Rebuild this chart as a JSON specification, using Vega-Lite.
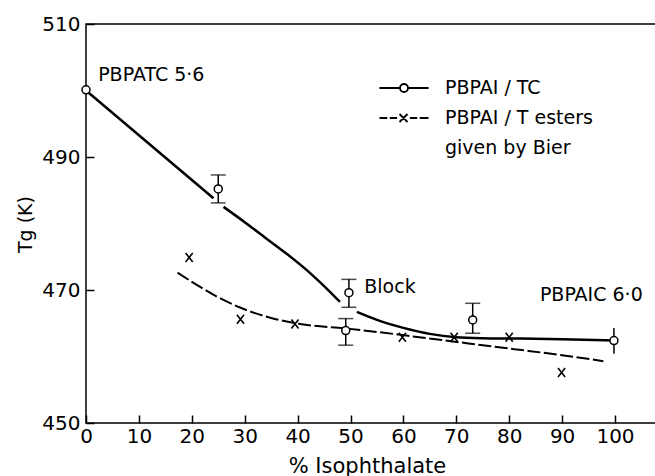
{
  "$schema": "https://vega.github.io/schema/vega-lite/v6.json",
  "width": 570,
  "height": 399,
  "autosize": {"type": "none"},
  "padding": {"left": 86, "top": 24, "right": 0, "bottom": 53},
  "background": "white",
  "config": {
    "font": "DejaVu Sans",
    "view": {"stroke": "black", "strokeWidth": 1.5},
    "axis": {"domain": false, "grid": false, "tickColor": "black", "tickWidth": 1.5, "tickSize": -8, "labelColor": "black", "labelFontSize": 20, "labelFont": "DejaVu Sans", "titleColor": "black", "titleFont": "DejaVu Sans", "titleFontWeight": "normal", "labelFlush": false, "labelOverlap": false}
  },
  "datasets": {
    "tc_curve": [
      {"seg": "a", "x": 0, "y": 500.0},
      {"seg": "a", "x": 24.1, "y": 483.8},
      {"seg": "b", "x": 26.0, "y": 482.5},
      {"seg": "b", "x": 30.0, "y": 480.2},
      {"seg": "b", "x": 34.0, "y": 477.8},
      {"seg": "b", "x": 38.0, "y": 475.4},
      {"seg": "b", "x": 42.0, "y": 472.8},
      {"seg": "b", "x": 45.5, "y": 470.2},
      {"seg": "b", "x": 48.0, "y": 468.2},
      {"seg": "c", "x": 51.2, "y": 466.7},
      {"seg": "c", "x": 55.0, "y": 465.5},
      {"seg": "c", "x": 60.0, "y": 464.3},
      {"seg": "c", "x": 65.0, "y": 463.4},
      {"seg": "c", "x": 70.0, "y": 462.9},
      {"seg": "c", "x": 75.0, "y": 462.75},
      {"seg": "c", "x": 81.0, "y": 462.7},
      {"seg": "c", "x": 90.0, "y": 462.6},
      {"seg": "c", "x": 99.7, "y": 462.4}
    ],
    "bier_curve": [
      {"x": 17.3, "y": 472.6},
      {"x": 21.5, "y": 470.5},
      {"x": 25.0, "y": 468.9},
      {"x": 29.0, "y": 467.4},
      {"x": 35.0, "y": 465.8},
      {"x": 40.5, "y": 464.9},
      {"x": 49.3, "y": 464.2},
      {"x": 56.0, "y": 463.6},
      {"x": 63.0, "y": 462.9},
      {"x": 69.0, "y": 462.3},
      {"x": 75.0, "y": 461.7},
      {"x": 81.0, "y": 461.1},
      {"x": 90.0, "y": 460.2},
      {"x": 97.8, "y": 459.3}
    ],
    "tc_points": [
      {"x": 0, "y": 500.1},
      {"x": 25.0, "y": 485.2},
      {"x": 49.7, "y": 469.6},
      {"x": 49.1, "y": 463.9},
      {"x": 73.1, "y": 465.5},
      {"x": 99.8, "y": 462.4}
    ],
    "err_capped": [
      {"x": 25.0, "lo": 483.1, "hi": 487.3},
      {"x": 49.7, "lo": 467.4, "hi": 471.6},
      {"x": 49.1, "lo": 461.7, "hi": 465.7},
      {"x": 73.1, "lo": 463.5, "hi": 468.0}
    ],
    "err_plain": [
      {"x": 99.8, "lo": 460.4, "hi": 464.3}
    ],
    "bier_points": [
      {"x": 19.5, "y": 474.9},
      {"x": 29.2, "y": 465.6},
      {"x": 39.5, "y": 464.9},
      {"x": 59.8, "y": 462.9},
      {"x": 69.6, "y": 462.9},
      {"x": 80.0, "y": 462.9},
      {"x": 89.9, "y": 457.6}
    ],
    "labels": [
      {"text": "PBPATC 5·6", "x": 2.3, "y": 502.3},
      {"text": "Block", "x": 52.6, "y": 470.4},
      {"text": "PBPAIC 6·0", "x": 85.8, "y": 469.25}
    ],
    "series": [
      {"series": "PBPAI / TC"},
      {"series": "PBPAI / T esters"}
    ]
  },
  "encoding": {
    "x": {"field": "x", "type": "quantitative", "scale": {"domain": [0, 107.75], "nice": false, "zero": false},
      "axis": {"values": [0, 10, 20, 30, 40, 50, 60, 70, 80, 90, 100], "labelPadding": 11, "title": "% Isophthalate", "titleFontSize": 21, "titleX": 281, "titleY": 43, "titleBaseline": "middle"}},
    "y": {"field": "y", "type": "quantitative", "scale": {"domain": [450, 510], "nice": false, "zero": false},
      "axis": {"values": [450, 470, 490, 510], "labelPadding": 14, "title": "Tg (K)", "titleFontSize": 19, "titleX": -61, "titleY": 200, "titleAngle": -90, "titleAlign": "center", "titleBaseline": "middle"}}
  },
  "layer": [
    {
      "data": {"name": "tc_curve"},
      "mark": {"type": "line", "color": "black", "strokeWidth": 2.5, "interpolate": "monotone"},
      "encoding": {"detail": {"field": "seg"}}
    },
    {
      "data": {"name": "bier_curve"},
      "mark": {"type": "line", "color": "black", "strokeWidth": 2, "strokeDash": [13, 3.5], "interpolate": "monotone"},
      "encoding": {}
    },
    {
      "data": {"name": "err_capped"},
      "mark": {"type": "rule", "color": "black", "strokeWidth": 1.5},
      "encoding": {"y": {"field": "lo", "type": "quantitative"}, "y2": {"field": "hi"}}
    },
    {
      "data": {"name": "err_plain"},
      "mark": {"type": "rule", "color": "black", "strokeWidth": 1.5},
      "encoding": {"y": {"field": "lo", "type": "quantitative"}, "y2": {"field": "hi"}}
    },
    {
      "data": {"name": "err_capped"},
      "mark": {"type": "tick", "color": "black", "orient": "horizontal", "size": 15, "thickness": 1.5},
      "encoding": {"y": {"field": "lo", "type": "quantitative"}}
    },
    {
      "data": {"name": "err_capped"},
      "mark": {"type": "tick", "color": "black", "orient": "horizontal", "size": 15, "thickness": 1.5},
      "encoding": {"y": {"field": "hi", "type": "quantitative"}}
    },
    {
      "data": {"name": "tc_points"},
      "mark": {"type": "point", "shape": "circle", "size": 64, "filled": false, "fill": "white", "fillOpacity": 1, "stroke": "black", "strokeWidth": 1.5, "opacity": 1}
    },
    {
      "data": {"name": "bier_points"},
      "mark": {"type": "point", "shape": "M-0.8,-1L0.8,1M-0.8,1L0.8,-1", "size": 80, "filled": false, "stroke": "black", "strokeWidth": 1.6, "opacity": 1}
    },
    {
      "data": {"name": "labels"},
      "mark": {"type": "text", "align": "left", "baseline": "middle", "fontSize": 19, "color": "black", "font": "DejaVu Sans"},
      "encoding": {"text": {"field": "text"}}
    },
    {
      "data": {"name": "series"},
      "mark": {"type": "point", "filled": false, "color": "black", "opacity": 0},
      "encoding": {
        "x": {"datum": 50},
        "y": {"datum": 480},
        "shape": {"field": "series", "type": "nominal",
          "scale": {"domain": ["PBPAI / TC", "PBPAI / T esters", "given by Bier"],
            "range": [
              "M-2.45,0L-0.4,0M0.4,0L2.45,0M-0.4,0A0.4,0.4,0,1,0,0.4,0A0.4,0.4,0,1,0,-0.4,0",
              "M-2.45,0L-1.67,0M-1.42,0L-0.69,0M-0.45,-0.4L0.35,0.4M-0.45,0.4L0.35,-0.4M0.59,0L1.32,0M1.57,0L2.45,0",
              "M0,0"
            ]},
          "legend": {"orient": "none", "legendX": 307, "legendY": 53, "title": null, "padding": 0,
            "symbolSize": 400, "symbolOpacity": 1, "symbolStrokeColor": "black", "symbolFillColor": "transparent", "symbolStrokeWidth": 1.8,
            "labelFontSize": 19, "labelFont": "DejaVu Sans", "labelColor": "black", "labelOffset": 30, "rowPadding": 9, "labelLimit": 400}
        }
      }
    }
  ]
}
